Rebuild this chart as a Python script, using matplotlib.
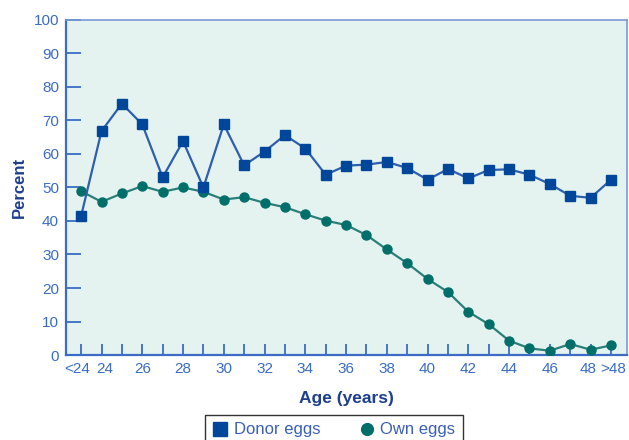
import matplotlib.pyplot as plt
import matplotlib.transforms as mtransforms
import numpy as np

plt.rcParams['font.family'] = ['Liberation Sans', 'DejaVu Sans']

ages = ['<24'] + [str(a) for a in range(24, 49)] + ['>48']
donor = [41.5, 66.8, 75.0, 68.8, 53.0, 63.8, 50.0, 68.8, 56.6, 60.7, 65.6, 61.6,
         53.8, 56.5, 56.8, 57.6, 55.8, 52.3, 55.5, 52.7, 55.2, 55.4, 53.8, 51.0,
         47.5, 46.9, 52.3]
own = [48.9, 45.7, 48.2, 50.4, 48.7, 50.0, 48.7, 46.4, 47.1, 45.4, 44.1, 42.0,
       40.1, 38.8, 35.8, 31.5, 27.4, 22.7, 18.8, 12.9, 9.2, 4.3, 2.0, 1.3,
       3.3, 1.6, 2.9]
labelled = ['<24'] + [str(a) for a in range(24, 49, 2)] + ['>48']

blue = '#00479b'
blue_line = '#2c5fad'
teal = '#006f69'
teal_line = '#2a7f78'
axis_blue = '#3a6cc4'
title_blue = '#1d3f8e'

fig = plt.figure(figsize=(6.29, 4.40), dpi=100)
ax = fig.add_axes([0.105, 0.193, 0.892, 0.762])
ax.set_facecolor('#e5f3f0')

x = np.arange(len(ages))
ax.plot(x, own, '-o', color=teal_line, mfc=teal, mec=teal, ms=6.5, lw=1.6,
        label='Own eggs', zorder=3)
ax.plot(x, donor, '-s', color=blue_line, mfc=blue, mec=blue, ms=7.5, lw=1.6,
        label='Donor eggs', zorder=4)

ax.set_xlim(-0.74, len(ages) - 1 + 0.79)
ax.set_ylim(0, 100)
ax.set_yticks(range(0, 101, 10))
ax.set_xticks(x)
ax.set_xticklabels([a if a in labelled else '' for a in ages])

ax.tick_params(axis='y', direction='in', length=11, width=1.3, color=axis_blue,
               labelcolor=axis_blue, labelsize=11, pad=5)
ax.tick_params(axis='x', direction='in', length=8, width=1.3, color=axis_blue,
               labelcolor=axis_blue, labelsize=11, pad=5)

# nudge the crowded end labels apart
shifts = {0: -3.5, 1: 3.5, len(ages) - 2: -2.5, len(ages) - 1: 2.5}
for i, lab in enumerate(ax.get_xticklabels()):
    if i in shifts:
        off = mtransforms.ScaledTranslation(shifts[i] / 100, 0, fig.dpi_scale_trans)
        lab.set_transform(lab.get_transform() + off)

for s in ['left', 'bottom']:
    ax.spines[s].set_color(axis_blue)
    ax.spines[s].set_linewidth(1.6)
for s in ['top', 'right']:
    ax.spines[s].set_color('#7a9ad6')
    ax.spines[s].set_linewidth(1.2)

ax.set_ylabel('Percent', fontsize=12, fontweight='bold', color=title_blue, labelpad=5)
ax.set_xlabel('Age (years)', fontsize=12.5, fontweight='bold', color=title_blue, labelpad=11)

h, l = ax.get_legend_handles_labels()
leg = fig.legend(h[::-1], l[::-1], loc='upper left', bbox_to_anchor=(0.312, 0.076),
                 ncol=2, frameon=True, fontsize=12, handlelength=1.0,
                 handletextpad=0.3, columnspacing=2.3, borderpad=0.45,
                 markerscale=1.3, fancybox=False)
leg.get_frame().set_edgecolor('black')
leg.get_frame().set_linewidth(1.0)
for t in leg.get_texts():
    t.set_color('#3a5fb8')
for line in leg.get_lines():
    line.set_linestyle('')

fig.savefig('out.png', dpi=100, facecolor='white')
